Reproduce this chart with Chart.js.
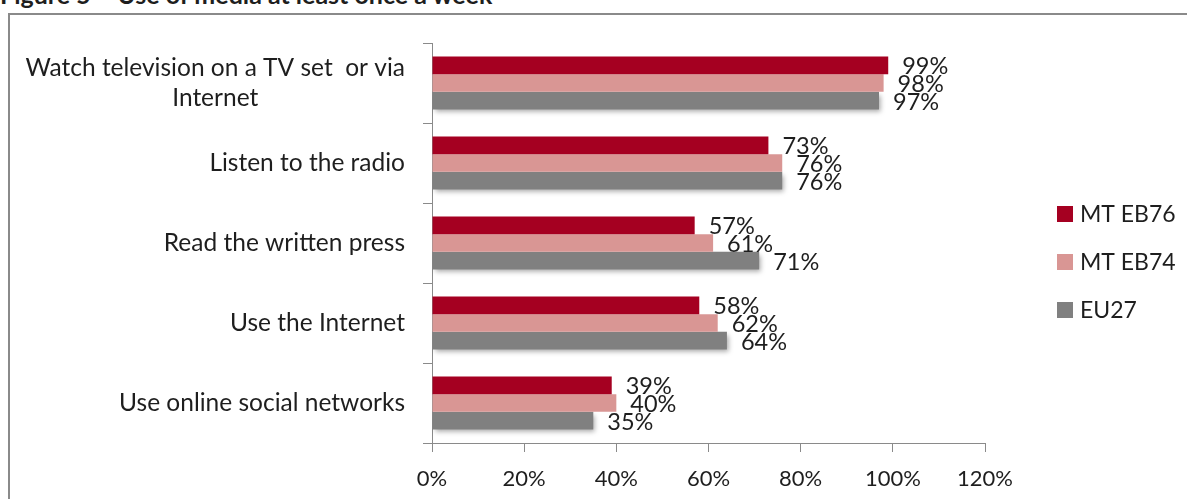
<!DOCTYPE html>
<html>
<head>
<meta charset="utf-8">
<script src="https://cdn.jsdelivr.net/npm/chart.js@4.4.1/dist/chart.umd.min.js"></script>
<style>
  html, body { margin: 0; padding: 0; width: 1187px; height: 499px; overflow: hidden; background: #fff; }
  #title { position: absolute; left: 0; top: -20px; font: bold 25px Lato, sans-serif; color: #1e1e1e; white-space: nowrap; line-height: 29px; }
  #frame { position: absolute; left: 8px; top: 13px; width: 1400px; height: 700px; border: 2px solid #8a8a8a; box-sizing: border-box; }
  #c { position: absolute; left: 0; top: 0; }
</style>
</head>
<body>
<div id="title">Figure 5 – Use of media at least once a week</div>
<div id="frame"></div>
<canvas id="c" width="1187" height="499"></canvas>
<script>
// ---- data ----
const categories = [
  ["Watch television on a TV set  or via", "Internet"],
  ["Listen to the radio"],
  ["Read the written press"],
  ["Use the Internet"],
  ["Use online social networks"]
];
const seriesNames = ["MT EB76", "MT EB74", "EU27"];
const mtEB76 = [99, 73, 57, 58, 39];
const mtEB74 = [98, 76, 61, 62, 40];
const eu27   = [97, 76, 71, 64, 35];
const xTicks = [0, 20, 40, 60, 80, 100, 120];

const colors = ["#A50021", "#D99694", "#808080"];
const FONT = "Lato, 'Open Sans', sans-serif";
const TEXT = "#1e1e1e";

const valueLabels = {
  id: "valueLabels",
  afterDatasetsDraw(chart) {
    const ctx = chart.ctx;
    ctx.save();
    ctx.font = "23.5px " + FONT;
    ctx.fillStyle = TEXT;
    ctx.textAlign = "left";
    ctx.textBaseline = "alphabetic";
    chart.data.datasets.forEach((ds, di) => {
      const meta = chart.getDatasetMeta(di);
      meta.data.forEach((bar, i) => {
        ctx.fillText(ds.data[i] + "%", bar.x + 14, bar.y + 9);
      });
    });
    ctx.restore();
  }
};

const barShadow = {
  id: "barShadow",
  beforeDatasetDraw(chart, args) {
    if (args.index === 2) {
      const ctx = chart.ctx;
      ctx.save();
      ctx.shadowColor = "rgba(0,0,0,0.35)";
      ctx.shadowBlur = 5;
      ctx.shadowOffsetX = 2;
      ctx.shadowOffsetY = 3;
    }
  },
  afterDatasetDraw(chart, args) {
    if (args.index === 2) chart.ctx.restore();
  }
};

const catLabels = {
  id: "catLabels",
  afterDraw(chart) {
    const ctx = chart.ctx;
    const y = chart.scales.y;
    ctx.save();
    ctx.font = "24.5px " + FONT;
    ctx.fillStyle = TEXT;
    ctx.textBaseline = "middle";
    const rightEdge = chart.chartArea.left - 27;
    const lh = 30;
    categories.forEach((lines, i) => {
      const cy = y.getPixelForValue(i);
      const widths = lines.map(l => ctx.measureText(l).width);
      const maxW = Math.max(...widths);
      const centerX = rightEdge - maxW / 2;
      ctx.textAlign = "center";
      lines.forEach((l, k) => {
        const ly = cy + (k - (lines.length - 1) / 2) * lh;
        ctx.fillText(l, centerX, ly);
      });
    });
    ctx.restore();
  }
};

const customLegend = {
  id: "customLegend",
  afterDraw(chart) {
    const ctx = chart.ctx;
    const a = chart.chartArea;
    const x0 = a.right + 72;
    const cy = (a.top + a.bottom) / 2 + 19;
    const gap = 48;
    ctx.save();
    ctx.font = "23px " + FONT;
    ctx.textAlign = "left";
    ctx.textBaseline = "middle";
    seriesNames.forEach((n, i) => {
      const yy = cy + (i - 1) * gap;
      ctx.fillStyle = colors[i];
      ctx.fillRect(x0, yy - 8, 16, 16);
      ctx.fillStyle = TEXT;
      ctx.fillText(n, x0 + 23, yy + 1);
    });
    ctx.restore();
  }
};

new Chart(document.getElementById("c"), {
  type: "bar",
  data: {
    labels: categories,
    datasets: [
      { label: seriesNames[0], data: mtEB76, backgroundColor: colors[0] },
      { label: seriesNames[1], data: mtEB74, backgroundColor: colors[1] },
      { label: seriesNames[2], data: eu27, backgroundColor: colors[2] }
    ]
  },
  options: {
    indexAxis: "y",
    responsive: false,
    animation: false,
    devicePixelRatio: 1,
    layout: { padding: { left: 0, top: 43, right: 202, bottom: 0 } },
    datasets: { bar: { barPercentage: 1, categoryPercentage: 0.66 } },
    plugins: { legend: { display: false }, tooltip: { enabled: false }, title: { display: false } },
    scales: {
      x: {
        min: 0, max: 120,
        afterBuildTicks(s) { s.ticks = xTicks.map(v => ({ value: v })); },
        afterFit(s) { s.height = 56; },
        grid: { drawOnChartArea: false, drawTicks: true, tickLength: 9, color: "#8a8a8a" },
        border: { display: true, color: "#8a8a8a" },
        ticks: { padding: 14, color: TEXT, font: { family: FONT, size: 22 }, callback: v => v + "%" }
      },
      y: {
        afterFit(s) { s.width = 432; },
        grid: { offset: true, drawOnChartArea: false, drawTicks: true, tickLength: 9, color: "#8a8a8a" },
        border: { display: true, color: "#8a8a8a" },
        ticks: { display: false }
      }
    }
  },
  plugins: [barShadow, valueLabels, catLabels, customLegend]
});
</script>
</body>
</html>
